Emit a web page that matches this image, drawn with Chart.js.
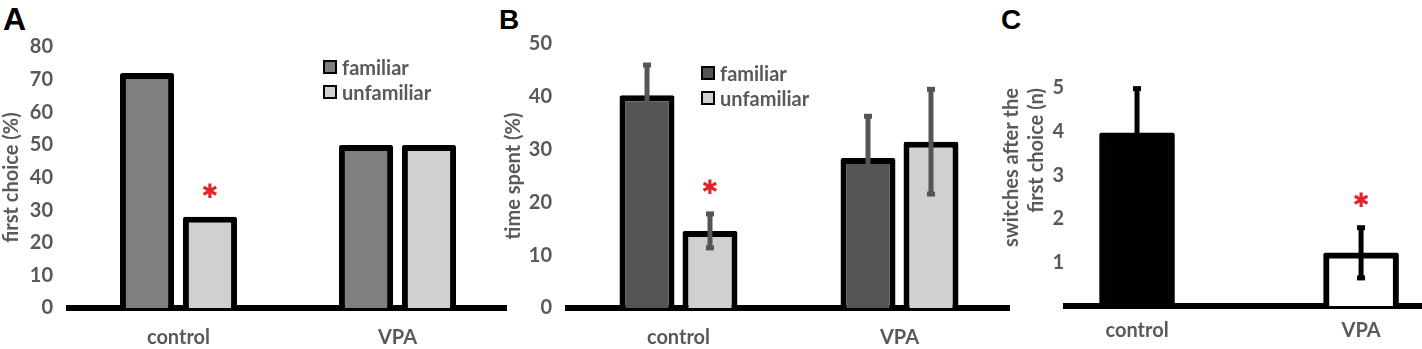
<!DOCTYPE html>
<html>
<head>
<meta charset="utf-8">
<script src="https://cdn.jsdelivr.net/npm/chart.js@4.4.1/dist/chart.umd.min.js"></script>
<style>
  body { margin: 0; background: #fff; width: 1422px; height: 349px; position: relative; overflow: hidden; }
  canvas { position: absolute; top: 0; }
  .panel { position: absolute; font: bold 28px "Liberation Sans", Arial, sans-serif; line-height: 1; color: #000; }
  .legend { position: absolute; font: bold 20px Lato, sans-serif; color: #595959; }
  .legend div { display: flex; align-items: center; height: 25px; }
  .legend span { display: inline-block; width: 14px; height: 14px; border: 2px solid #000; box-sizing: border-box; margin-right: 5px; }
</style>
</head>
<body>
<div class="panel" style="left:3px;top:3px;font-size:32px">A</div>
<div class="panel" style="left:499px;top:6px">B</div>
<div class="panel" style="left:1001px;top:6px">C</div>

<canvas id="chartA" width="507" height="349" style="left:0px"></canvas>
<canvas id="chartB" width="510" height="349" style="left:500px"></canvas>
<canvas id="chartC" width="432" height="349" style="left:990px"></canvas>

<div class="legend" id="legendA" style="left:323px;top:54px"></div>
<div class="legend" id="legendB" style="left:701px;top:60px"></div>

<script>
const categories = ['control', 'VPA'];
const seriesLabels = ['familiar', 'unfamiliar'];

// A: first choice (%)
const firstFamiliar = [72, 50];
const firstUnfamiliar = [28, 50];
const yTicksA = [0, 10, 20, 30, 40, 50, 60, 70, 80];

// B: time spent (%), mean with error
const timeFamiliar = [40.3, 28.4];
const timeFamiliarErr = [6, 8.2];
const timeUnfamiliar = [14.6, 31.5];
const timeUnfamiliarErr = [3.5, 10.2];
const yTicksB = [0, 10, 20, 30, 40, 50];

// C: switches after the first choice (n)
const switches = [3.97, 1.22];
const switchesErr = [1.05, 0.61];
const yTicksC = [1, 2, 3, 4, 5];

// significance marks: [dataset, bar]
const starsA = [[1, 0]];
const starsB = [[1, 0]];
const starsC = [[0, 1]];

const GREY_TEXT = '#595959';
const FONT = { family: 'Lato', size: 20, weight: 'bold' };

Chart.defaults.font.family = 'Lato';
Chart.defaults.color = GREY_TEXT;

function valueOf(ds, i) {
  const raw = ds.data[i];
  return typeof raw === 'number' ? raw : raw.y;
}

const errorBars = {
  id: 'errorBars',
  afterDatasetsDraw(chart) {
    const ctx = chart.ctx, y = chart.scales.y;
    chart.data.datasets.forEach((ds, di) => {
      if (!ds.errors) return;
      chart.getDatasetMeta(di).data.forEach((bar, i) => {
        const v = valueOf(ds, i), e = ds.errors[i];
        const top = y.getPixelForValue(v + e);
        const bot = y.getPixelForValue(v - e);
        ctx.save();
        ctx.strokeStyle = ctx.fillStyle = ds.errorColor;
        ctx.lineWidth = 5;
        ctx.beginPath();
        ctx.moveTo(bar.x, top);
        ctx.lineTo(bar.x, bot);
        ctx.stroke();
        ctx.fillRect(bar.x - 4, top - 1, 8, 5);
        ctx.fillRect(bar.x - 4, bot - 4, 8, 5);
        ctx.restore();
      });
    });
  }
};

const stars = {
  id: 'stars',
  afterDatasetsDraw(chart, args, opts) {
    const ctx = chart.ctx, y = chart.scales.y;
    (opts.marks || []).forEach(([di, i]) => {
      const ds = chart.data.datasets[di];
      const bar = chart.getDatasetMeta(di).data[i];
      const e = ds.errors ? ds.errors[i] : 0;
      const cy = y.getPixelForValue(valueOf(ds, i) + e) - 24;
      ctx.save();
      ctx.fillStyle = '#e3242b';
      ctx.font = '20px "DejaVu Sans"';
      ctx.textAlign = 'center';
      ctx.textBaseline = 'middle';
      ctx.fillText('\u2731', bar.x, cy);
      ctx.restore();
    });
  }
};

function yAxis(ticks, title, width, titlePad, extra) {
  return Object.assign({
    min: 0,
    max: ticks[ticks.length - 1],
    grid: { display: false, drawTicks: false },
    border: { display: false },
    afterBuildTicks: s => { s.ticks = ticks.map(v => ({ value: v })); },
    ticks: { font: FONT, color: GREY_TEXT, padding: 16 },
    title: { display: true, text: title, font: FONT, color: GREY_TEXT, padding: { top: titlePad, bottom: 0 } },
    afterFit: s => { s.width = width; }
  }, extra || {});
}

function xAxis(height, pad, extra) {
  return Object.assign({
    grid: { display: false, drawTicks: false },
    border: { display: true, color: '#000', width: 6 },
    ticks: { font: FONT, color: GREY_TEXT, padding: pad },
    afterFit: s => { s.height = height; }
  }, extra || {});
}

function baseOptions(top, scales, marks) {
  return {
    responsive: false,
    animation: false,
    events: [],
    layout: { padding: { top: top, left: 0, right: 0, bottom: 0 } },
    plugins: { legend: { display: false }, tooltip: { enabled: false }, stars: { marks: marks } },
    scales: scales
  };
}

function makeLegend(id, colors) {
  document.getElementById(id).innerHTML = seriesLabels
    .map((l, i) => `<div><span style="background:${colors[i]}"></span>${l}</div>`).join('');
}

// Panel A
const colorsA = ['#7f7f7f', '#d0d0d0'];
new Chart(document.getElementById('chartA'), {
  type: 'bar',
  data: {
    labels: categories,
    datasets: [firstFamiliar, firstUnfamiliar].map((d, i) => ({
      label: seriesLabels[i], data: d, backgroundColor: colorsA[i],
      borderColor: '#000', borderWidth: 6, borderRadius: 2,
      categoryPercentage: 0.575, barPercentage: 0.86
    }))
  },
  options: baseOptions(47, {
    x: xAxis(41, 18),
    y: yAxis(yTicksA, 'first choice (%)', 69, 0)
  }, starsA),
  plugins: [errorBars, stars]
});
makeLegend('legendA', colorsA);

// Panel B
const colorsB = ['#555555', '#d0d0d0'];
const errsB = [timeFamiliarErr, timeUnfamiliarErr];
new Chart(document.getElementById('chartB'), {
  type: 'bar',
  data: {
    labels: categories,
    datasets: [timeFamiliar, timeUnfamiliar].map((d, i) => ({
      label: seriesLabels[i], data: d, backgroundColor: colorsB[i],
      borderColor: '#000', borderWidth: 6, borderRadius: 2,
      categoryPercentage: 0.57, barPercentage: 0.873,
      errors: errsB[i], errorColor: '#555555'
    }))
  },
  options: baseOptions(44, {
    x: xAxis(41, 18),
    y: yAxis(yTicksB, 'time spent (%)', 68, 2)
  }, starsB),
  plugins: [errorBars, stars]
});
makeLegend('legendB', colorsB);

// Panel C
new Chart(document.getElementById('chartC'), {
  type: 'bar',
  data: {
    datasets: [{
      label: 'switches',
      data: switches.map((v, i) => ({ x: i, y: v })),
      backgroundColor: ['#000000', '#ffffff'],
      borderColor: '#000', borderWidth: 6, borderRadius: 2,
      barThickness: 75,
      errors: switchesErr, errorColor: '#000000'
    }]
  },
  options: baseOptions(88, {
    x: xAxis(43, 13, {
      type: 'linear', min: -0.317, max: 1.272, offset: false, bounds: 'data',
      grid: { display: false, drawTicks: false, offset: false },
      afterBuildTicks: s => { s.ticks = categories.map((c, i) => ({ value: i })); },
      ticks: { font: FONT, color: GREY_TEXT, padding: 13, callback: v => categories[v] }
    }),
    y: yAxis(yTicksC, ['switches after the', 'first choice (n)'], 76, 9, {
      ticks: { font: FONT, color: GREY_TEXT, padding: 2 },
      title: { display: true, align: 'end', text: ['switches after the', 'first choice (n)'],
               font: Object.assign({}, FONT, { lineHeight: 1.25 }), color: GREY_TEXT, padding: { top: 9, bottom: 0 } }
    })
  }, starsC),
  plugins: [errorBars, stars]
});
</script>
</body>
</html>
